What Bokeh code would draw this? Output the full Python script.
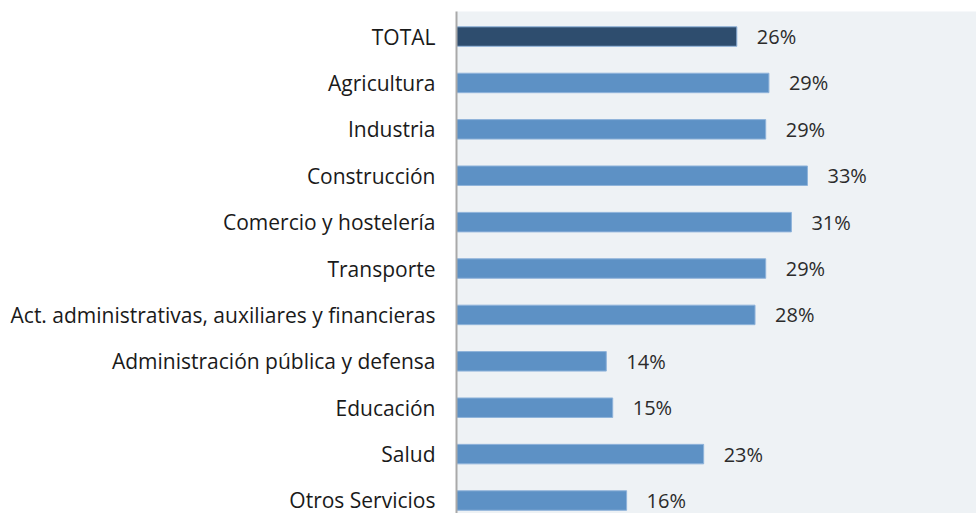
from bokeh.plotting import figure
from bokeh.models import Range1d, FixedTicker, ColumnDataSource
from bokeh.embed import file_html
from bokeh.resources import INLINE
from bokeh.core.properties import value

categories = ["TOTAL", "Agricultura", "Industria", "Construcción", "Comercio y hostelería",
              "Transporte", "Act. administrativas, auxiliares y financieras",
              "Administración pública y defensa", "Educación", "Salud", "Otros Servicios"]
values = [26.2, 29.2, 28.9, 32.8, 31.3, 28.9, 27.9, 14.0, 14.6, 23.1, 15.9]
value_labels = ["26%", "29%", "29%", "33%", "31%", "29%", "28%", "14%", "15%", "23%", "16%"]

pos = list(range(len(categories)))
colors = ["#2e4d6e"] + ["#5d91c5"] * (len(categories) - 1)
src = ColumnDataSource(dict(y=pos, v=values, lab=value_labels, c=colors))

FONT = "Open Sans"

p = figure(width=976, height=513, output_backend="svg", toolbar_location=None,
           x_range=Range1d(0, 48.6), y_range=Range1d(10.28, -0.54),
           min_border_left=456, min_border_right=0, min_border_top=11, min_border_bottom=0)
p.background_fill_color = "#eef2f5"
p.border_fill_color = "white"
p.outline_line_color = None
p.grid.grid_line_color = None
p.xaxis.visible = False

p.hbar(y="y", left=0, right="v", height=0.42, color="c", line_color="#8fb3da",
       line_width=1, source=src)
p.text(x="v", y="y", text="lab", x_offset=20, text_align="left", text_baseline="middle",
       text_font=value(FONT), text_font_size="20px", text_color="#2b2b2b", source=src)

ya = p.yaxis[0]
ya.ticker = FixedTicker(ticks=pos)
ya.major_label_overrides = {i: c for i, c in enumerate(categories)}
ya.major_tick_line_color = None
ya.minor_tick_line_color = None
ya.axis_line_color = "#a9a9a9"
ya.axis_line_width = 2
ya.major_label_standoff = 15
ya.major_label_text_font = FONT
ya.major_label_text_font_size = "21px"
ya.major_label_text_color = "#1a1a1a"

open("out.html", "w").write(file_html(p, INLINE))
